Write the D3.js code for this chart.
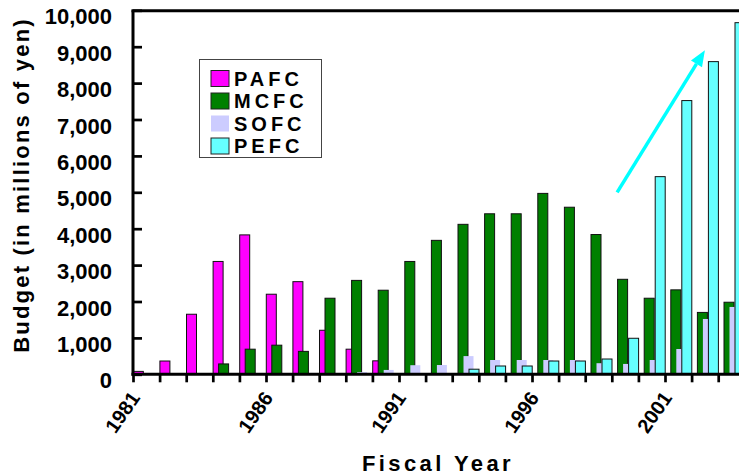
<!DOCTYPE html>
<html><head><meta charset="utf-8">
<script src="https://cdn.jsdelivr.net/npm/d3@7"></script>
<style>body{margin:0;background:#fff;}svg{display:block;font-family:"Liberation Sans",Arial,sans-serif;font-weight:bold;}</style>
</head><body>
<svg id="chart" width="739" height="475"></svg>
<script>
const years = ["1981","1982","1983","1984","1985","1986","1987","1988","1989","1990","1991","1992","1993","1994","1995","1996","1997","1998","1999","2000","2001","2002","2003"];
const yearLabels = ["1981","1986","1991","1996","2001"];
const seriesNames = ["PAFC","MCFC","SOFC","PEFC"];
const seriesColors = ["#FF00FF","#008000","#CCCCFF","#66FFFF"];
const PAFC = [80,365,1650,3100,3830,2200,2545,1210,690,370,0,0,0,0,0,0,0,0,0,0,0,0,0];
const MCFC = [0,0,0,285,690,800,630,2090,2580,2310,3100,3680,4120,4410,4410,4970,4590,3840,2610,2090,2320,1700,1980];
const SOFC = [0,0,0,0,0,0,0,0,60,120,250,255,500,393,393,393,393,305,285,393,695,1520,1850];
const PEFC = [0,0,0,0,0,0,0,0,0,0,0,0,140,228,228,365,365,420,990,5430,7520,8590,9660];
const yTicks = [0,1000,2000,3000,4000,5000,6000,7000,8000,9000,10000];
const arrowFrom = {year:1999.2, value:5000};
const arrowTo = {year:2002.5, value:8900};

(function(){
const values = [PAFC, MCFC, SOFC, PEFC];
const svg = d3.select("#chart");
const pLeft = 133, pBottom = 374.3, pTop = 10.3, step = 26.6;
const x = d3.scaleBand().domain(years).range([pLeft, pLeft + years.length*step]).padding(0);
const xLin = d3.scaleLinear().domain([1981, 1981 + years.length]).range([pLeft, pLeft + years.length*step]);
const y = d3.scaleLinear().domain([0,10000]).range([pBottom, pTop]);
const barW = 10, offsets = [0.3, 5.8, 11.3, 16.8];

values.forEach((vals, si) => {
  svg.append("g").selectAll("rect").data(years.map((yr,i)=>({yr, v:vals[i]})).filter(d=>d.v>0))
    .join("rect")
    .attr("x", d => x(d.yr) + offsets[si])
    .attr("y", d => y(d.v))
    .attr("width", barW)
    .attr("height", d => pBottom - y(d.v))
    .attr("fill", seriesColors[si])
    .attr("stroke", si === 2 ? "none" : "#111")
    .attr("stroke-width", 1);
});

const yAxis = svg.append("g").attr("transform", `translate(${pLeft},0)`)
  .call(d3.axisRight(y).tickValues(yTicks).tickSize(9).tickFormat(""));
yAxis.select(".domain").remove();
yAxis.selectAll(".tick line").attr("stroke","#000").attr("stroke-width",2.7);
svg.append("g").selectAll("text").data(yTicks).join("text")
  .attr("x", 112).attr("y", d => y(d) + 14)
  .attr("text-anchor","end").attr("font-size",22).text(d => d3.format(",")(d));

const xAxis = svg.append("g").attr("transform", `translate(0,${pBottom})`)
  .call(d3.axisBottom(xLin).tickValues(d3.range(1981, 1981+years.length)).tickSize(8).tickFormat(""));
xAxis.select(".domain").remove();
xAxis.selectAll(".tick line").attr("stroke","#000").attr("stroke-width",2.7);
svg.append("g").selectAll("text").data(yearLabels).join("text")
  .attr("transform", d => `translate(${x(d)+8},${398}) rotate(-55)`)
  .attr("text-anchor","end").attr("font-size",20).text(d=>d);

svg.append("line").attr("x1",pLeft).attr("x2",pLeft).attr("y1",pTop).attr("y2",pBottom+1.5).attr("stroke","#000").attr("stroke-width",3);
svg.append("line").attr("x1",pLeft-1.5).attr("x2",739).attr("y1",pBottom).attr("y2",pBottom).attr("stroke","#000").attr("stroke-width",3);
svg.append("line").attr("x1",pLeft-1.5).attr("x2",739).attr("y1",pTop+0.5).attr("y2",pTop+0.5).attr("stroke","#000").attr("stroke-width",3);

svg.append("text").attr("x", 438).attr("y", 471).attr("text-anchor","middle")
  .attr("font-size",22).attr("letter-spacing",3.4).text("Fiscal Year");
svg.append("text").attr("transform","translate(29,185) rotate(-90)").attr("text-anchor","middle")
  .attr("font-size",22).attr("letter-spacing",2.2).text("Budget (in millions of yen)");

const lg = svg.append("g");
lg.append("rect").attr("x",199.5).attr("y",59.5).attr("width",122).attr("height",98)
  .attr("fill","#fff").attr("stroke","#444").attr("stroke-width",1);
seriesNames.forEach((n,i) => {
  const yy = 70.5 + i*22.5;
  lg.append("rect").attr("x",211).attr("y",yy).attr("width",18).attr("height",16)
    .attr("fill",seriesColors[i]).attr("stroke", i===2 ? "none" : "#222").attr("stroke-width",1);
  lg.append("text").attr("x",234).attr("y",yy+15).attr("font-size",20).attr("letter-spacing",4).text(n);
});

const ax1 = xLin(arrowFrom.year), ay1 = y(arrowFrom.value), ax2 = xLin(arrowTo.year), ay2 = y(arrowTo.value);
const ang = Math.atan2(ay2-ay1, ax2-ax1), hl = 16, hw = 6.5;
const bx = ax2 - hl*Math.cos(ang), by = ay2 - hl*Math.sin(ang);
svg.append("line").attr("x1",ax1).attr("y1",ay1).attr("x2",bx).attr("y2",by)
  .attr("stroke","#00FFFF").attr("stroke-width",3.5);
svg.append("path").attr("d", `M${ax2},${ay2} L${bx - hw*Math.sin(ang)},${by + hw*Math.cos(ang)} L${bx + hw*Math.sin(ang)},${by - hw*Math.cos(ang)} Z`)
  .attr("fill","#00FFFF");
})();
</script>
</body></html>
